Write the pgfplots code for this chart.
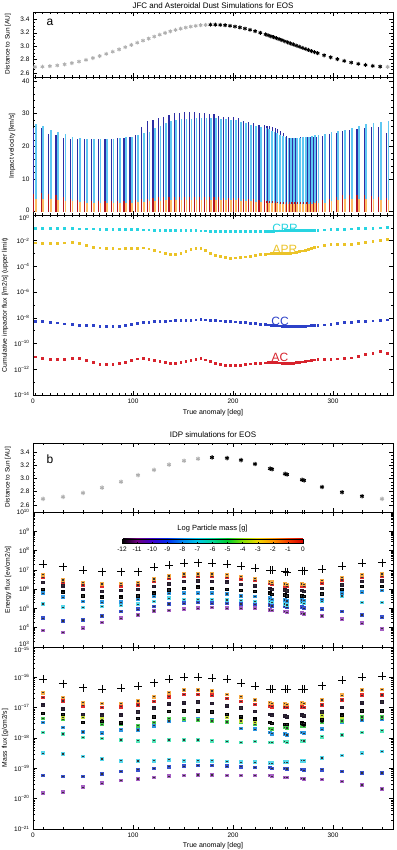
\documentclass[border=0pt]{standalone}
\usepackage{fontspec}
\setmainfont{Liberation Sans}
\usepackage{pgfplots}
\usepackage{pgfplotstable}
\pgfplotsset{compat=1.18}

\newcommand\fs[1]{\fontsize{#1}{#1}\selectfont}

\definecolor{cdb}{RGB}{45,45,165}
\definecolor{ccy}{RGB}{95,200,242}
\definecolor{crd}{RGB}{180,20,35}
\definecolor{cor}{RGB}{252,188,100}
\definecolor{fcy}{RGB}{40,212,225}
\definecolor{fye}{RGB}{235,195,40}
\definecolor{fbl}{RGB}{45,65,200}
\definecolor{frd}{RGB}{215,35,45}
\definecolor{gry}{RGB}{175,175,175}
\definecolor{por}{RGB}{245,170,70}
\definecolor{prd}{RGB}{225,45,45}
\definecolor{pbk}{RGB}{35,25,45}
\definecolor{pin}{RGB}{95,70,190}
\definecolor{pye}{RGB}{200,225,60}
\definecolor{pgr}{RGB}{70,205,80}
\definecolor{psk}{RGB}{45,150,225}
\definecolor{paq}{RGB}{80,230,185}
\definecolor{pcy}{RGB}{85,215,235}
\definecolor{pbl}{RGB}{55,80,205}
\definecolor{ppu}{RGB}{165,95,195}

\pgfplotsset{colormap={idl}{rgb255(0cm)=(0,0,0); rgb255(1cm)=(110,0,130); rgb255(2cm)=(60,0,205); rgb255(3cm)=(0,45,240); rgb255(4cm)=(0,135,240); rgb255(5cm)=(0,200,230); rgb255(6cm)=(0,215,150); rgb255(7cm)=(0,205,45); rgb255(8cm)=(135,225,0); rgb255(9cm)=(240,215,0); rgb255(10cm)=(255,150,0); rgb255(11cm)=(245,60,0); rgb255(12cm)=(215,0,0)}}

\pgfdeclareplotmark{sqd}{%
  \pgfpathrectangle{\pgfpoint{-\pgfplotmarksize}{-\pgfplotmarksize}}{\pgfpoint{2\pgfplotmarksize}{2\pgfplotmarksize}}%
  \pgfusepath{fill}%
  \begin{pgfscope}%
  \pgfsetfillcolor{black!80}%
  \pgfpathrectangle{\pgfpoint{-0.35\pgfplotmarksize}{-0.35\pgfplotmarksize}}{\pgfpoint{0.7\pgfplotmarksize}{0.7\pgfplotmarksize}}%
  \pgfusepath{fill}%
  \end{pgfscope}%
}

\def\mlE{3}
\foreach \d in {3,...,9}{\foreach \m in {0.301,0.477,0.602,0.699,0.778,0.845,0.903,0.954}{\pgfmathsetmacro\mtv{\d+\m}\xdef\mlE{\mlE,\mtv}}}
\def\mlM{-21}
\foreach \d in {-21,...,-16}{\foreach \m in {0.301,0.477,0.602,0.699,0.778,0.845,0.903,0.954}{\pgfmathsetmacro\mtv{\d+\m}\xdef\mlM{\mlM,\mtv}}}

\def\nuA{2,9.45,16.88,24.27,31.59,38.83,45.97,52.99,59.89,66.65,73.27,79.74,86.07,92.26,98.31,104.23,110.02,115.69,121.25,126.7,132.06,137.33,142.53,147.65,152.72,157.73,162.7,167.64,172.55,177.45,182.34,187.23,192.12,197.03,201.97,206.94,211.95,217.01,222.13,227.32,232.58,237.93,243.37,248.91,254.56,260.32,266.21,272.23,278.38,284.67,291.1,297.67,304.38,311.22,318.2,325.29,332.49,339.78,347.14,354.55}
\def\nuB{10,30,50,69,88,105,121,136,151,165,179,194,208,222,237,239,252,254,269,271,289,309,329,349}

\pgfplotsset{
  idl/.style={scale only axis, width=360pt, xmin=0, xmax=360, anchor=south west,
    xtick={0,100,200,300}, tick align=inside, major tick length=4pt, minor tick length=2pt,
    axis line style={line width=0.6pt}, every tick/.style={black,line width=0.5pt},
    tick label style={font=\fs{6.5}},
    /pgf/number format/assume math mode=true, xticklabels={}},
  logl/.style={yticklabel={\pgfmathtruncatemacro\myexp{round(\tick)}10\textsuperscript{\ifnum\myexp<0 \textendash\the\numexpr-\myexp\relax\else\myexp\fi}}}
}

\pgfplotstableread{
nu vcc vcpr vac vapr fcpr fapr fcc fac
2.00 25.7 26.7 5.4 3.8 -1.00 -2.15 -8.24 -11.02
9.45 25.7 26.1 5.6 3.9 -1.01 -2.18 -8.28 -11.12
16.88 23.9 25.0 5.5 3.8 -1.02 -2.20 -8.32 -11.20
24.27 23.5 24.3 5.1 3.6 -1.03 -2.18 -8.38 -11.20
31.59 22.5 23.7 4.5 3.4 -1.04 -2.16 -8.46 -11.19
38.83 22.3 22.8 4.0 3.2 -1.05 -2.14 -8.52 -11.14
45.97 22.3 22.5 3.6 2.9 -1.06 -2.18 -8.56 -11.14
52.99 22.2 22.3 3.4 2.8 -1.06 -2.38 -8.59 -11.30
59.89 22.1 22.1 3.3 2.7 -1.07 -2.48 -8.60 -11.48
66.65 22.1 22.1 3.2 2.7 -1.08 -2.55 -8.62 -11.58
73.27 22.1 22.1 3.2 2.7 -1.09 -2.58 -8.63 -11.60
79.74 22.3 22.2 3.2 2.7 -1.10 -2.61 -8.63 -11.60
86.07 22.4 22.4 3.3 2.7 -1.10 -2.62 -8.62 -11.55
92.26 22.6 22.7 3.4 2.8 -1.11 -2.61 -8.58 -11.42
98.31 22.9 23.0 3.5 2.8 -1.12 -2.60 -8.52 -11.30
104.23 23.4 23.5 3.6 2.9 -1.13 -2.57 -8.44 -11.18
110.02 25.8 24.0 3.8 3.1 -1.14 -2.55 -8.36 -11.12
115.69 27.6 24.5 4.0 3.2 -1.15 -2.62 -8.31 -11.20
121.25 28.2 25.5 4.2 3.3 -1.16 -2.74 -8.28 -11.32
126.70 28.7 26.3 4.4 3.4 -1.17 -2.86 -8.26 -11.40
132.06 29.1 27.1 4.5 3.5 -1.18 -2.96 -8.24 -11.47
137.33 29.6 27.7 4.6 3.6 -1.19 -3.03 -8.22 -11.52
142.53 30.1 28.0 4.6 3.6 -1.19 -3.07 -8.21 -11.50
147.65 30.3 28.3 4.6 3.7 -1.20 -3.00 -8.20 -11.45
152.72 30.4 28.5 4.6 3.7 -1.20 -2.84 -8.19 -11.40
157.73 30.4 28.5 4.5 3.7 -1.21 -2.68 -8.17 -11.30
162.70 30.4 28.6 4.5 3.7 -1.21 -2.57 -8.15 -11.20
167.64 30.3 28.6 4.5 3.7 -1.22 -2.60 -8.13 -11.15
172.55 30.2 28.6 4.5 3.7 -1.22 -2.75 -8.15 -11.25
177.45 29.9 28.6 4.5 3.7 -1.23 -2.98 -8.17 -11.40
182.34 29.8 28.6 4.4 3.6 -1.23 -3.12 -8.19 -11.52
187.23 29.4 28.5 4.4 3.6 -1.24 -3.22 -8.22 -11.62
192.12 29.1 28.3 4.3 3.6 -1.24 -3.30 -8.25 -11.70
197.03 29.0 28.1 4.3 3.5 -1.25 -3.33 -8.28 -11.70
201.97 28.9 27.9 4.2 3.5 -1.25 -3.32 -8.30 -11.68
206.94 28.6 27.5 4.1 3.4 -1.25 -3.28 -8.33 -11.66
211.95 27.7 27.1 4.0 3.3 -1.25 -3.24 -8.36 -11.62
217.01 27.4 26.6 3.9 3.2 -1.25 -3.18 -8.40 -11.57
222.13 27.0 26.3 3.8 3.1 -1.24 -3.12 -8.43 -11.53
227.32 26.6 25.9 3.6 2.9 -1.24 -3.07 -8.47 -11.51
232.58 26.4 25.5 3.5 2.8 -1.24 -3.03 -8.51 -11.49
235.25 26.3 25.3 3.4 2.7 -1.23 -3.01 -8.53 -11.48
237.93 26.1 24.8 3.3 2.7 -1.23 -3.00 -8.55 -11.47
240.65 25.9 24.4 3.2 2.6 -1.23 -2.99 -8.57 -11.47
243.37 25.6 24.0 3.2 2.6 -1.22 -2.99 -8.59 -11.48
246.14 25.3 23.6 3.1 2.5 -1.22 -2.99 -8.61 -11.49
248.91 24.8 23.3 3.1 2.5 -1.22 -2.99 -8.62 -11.50
251.74 24.2 22.9 3.1 2.5 -1.21 -2.99 -8.63 -11.51
254.56 23.1 22.6 3.0 2.5 -1.21 -2.98 -8.64 -11.52
257.44 22.6 22.6 3.0 2.5 -1.21 -2.96 -8.64 -11.52
260.32 22.6 22.6 3.0 2.5 -1.20 -2.93 -8.64 -11.50
263.27 22.6 22.6 3.0 2.5 -1.20 -2.88 -8.64 -11.47
266.21 22.6 22.6 3.0 2.5 -1.19 -2.83 -8.64 -11.44
269.22 22.7 22.7 3.0 2.5 -1.19 -2.78 -8.63 -11.41
272.23 22.7 22.8 3.0 2.5 -1.18 -2.72 -8.62 -11.38
275.30 22.8 22.9 3.0 2.5 -1.18 -2.65 -8.61 -11.34
278.38 22.9 23.1 3.1 2.5 -1.17 -2.58 -8.60 -11.30
281.53 22.9 23.4 3.1 2.6 -1.17 -2.52 -8.59 -11.26
284.67 23.0 23.6 3.2 2.6 -1.16 -2.47 -8.58 -11.22
291.10 23.3 23.9 3.5 2.8 -1.14 -2.38 -8.53 -11.20
297.67 23.8 24.5 4.0 3.3 -1.13 -2.30 -8.47 -11.20
304.38 24.2 24.8 4.5 3.6 -1.11 -2.27 -8.41 -11.18
311.22 24.6 25.1 5.0 3.8 -1.09 -2.27 -8.36 -11.15
318.20 24.9 25.5 5.1 3.9 -1.07 -2.27 -8.32 -11.10
325.29 25.3 26.1 5.1 3.9 -1.05 -2.22 -8.28 -11.00
332.49 25.6 26.8 5.1 3.9 -1.03 -2.12 -8.25 -10.85
339.78 25.9 27.0 4.9 3.8 -1.01 -2.02 -8.22 -10.72
347.14 26.0 27.4 4.4 3.6 -0.99 -1.95 -8.18 -10.62
354.55 24.2 27.8 4.2 3.5 -0.97 -1.89 -8.14 -10.75
}\tabA

\pgfplotstableread{
nu plus or rd bk in sk cy bl pu
10 7.30 6.74 6.61 6.34 5.99 5.79 5.23 4.49 3.85
30 7.17 6.48 6.34 6.17 5.84 5.58 5.06 4.35 3.75
50 6.99 6.34 6.22 5.99 5.65 5.35 5.04 4.40 3.97
69 6.91 6.27 6.17 5.87 5.58 5.32 5.09 4.61 4.28
88 6.91 6.30 6.17 5.92 5.58 5.32 5.15 4.84 4.49
105 6.91 6.34 6.22 5.99 5.65 5.47 5.22 4.96 4.66
121 7.13 6.53 6.39 6.13 5.79 5.61 5.35 5.09 4.87
136 7.25 6.68 6.56 6.27 5.96 5.79 5.53 5.23 4.89
151 7.34 6.79 6.65 6.39 6.04 5.79 5.47 5.27 4.96
165 7.37 6.79 6.65 6.42 6.10 5.79 5.47 5.30 5.01
179 7.34 6.79 6.65 6.39 6.04 5.79 5.47 5.27 5.04
194 7.30 6.74 6.61 6.36 5.99 5.75 5.44 5.27 5.01
208 7.20 6.65 6.51 6.25 5.92 5.65 5.41 5.23 5.01
222 7.08 6.56 6.44 6.17 5.87 5.61 5.35 5.22 5.01
237 6.99 6.39 6.30 6.04 5.79 5.53 5.35 5.18 4.92
239 6.99 6.36 6.27 5.99 5.73 5.47 5.30 5.13 4.89
252 6.91 6.27 6.17 5.96 5.70 5.44 5.23 5.09 4.84
254 6.87 6.24 6.13 5.91 5.65 5.39 5.18 5.04 4.80
269 6.96 6.27 6.17 5.92 5.65 5.44 5.30 5.06 4.75
271 6.96 6.24 6.13 5.87 5.61 5.41 5.27 5.01 4.71
289 7.03 6.44 6.30 6.04 5.75 5.47 5.35 4.96 4.61
309 7.20 6.61 6.48 6.22 5.99 5.79 5.65 4.84 4.44
329 7.34 6.74 6.61 6.39 6.13 5.84 5.30 4.66 4.23
349 7.37 6.79 6.65 6.42 6.13 5.92 5.30 4.54 3.94
}\tabE

\pgfplotstableread{
nu plus or rd bk in ye gr sk aq cy bl pu
10 -16.05 -16.51 -16.67 -16.92 -17.19 nan -17.36 -17.49 -17.82 -18.50 -19.24 -19.82
30 -16.21 -16.67 -16.78 -17.05 -17.22 -17.32 -17.38 -17.66 -17.87 -18.53 -19.27 -19.79
50 -16.34 -16.84 -16.94 -17.22 -17.49 -17.33 nan -17.80 -17.98 -18.61 -19.27 -19.62
69 -16.38 -16.86 -17.00 -17.25 -17.45 -17.38 -17.55 -17.84 -18.02 -18.69 -19.19 -19.49
88 -16.35 -16.86 -16.97 -17.25 -17.50 nan -17.55 -17.73 -18.07 -18.75 -19.10 -19.40
105 -16.29 -16.78 -16.91 -17.14 -17.36 nan -17.60 -17.74 -18.09 -18.76 -19.05 -19.35
121 -16.18 -16.64 -16.80 -17.02 -17.31 nan -17.49 -17.60 -18.09 -18.75 -19.00 -19.30
136 -16.07 -16.51 -16.64 -16.87 -17.13 nan -17.36 -17.44 -18.07 -18.72 -18.95 -19.26
151 -15.99 -16.42 -16.56 -16.84 -17.11 nan -17.38 -17.41 -18.07 -18.75 -18.93 -19.24
165 -15.99 -16.42 -16.56 -16.81 -17.11 nan -17.41 -17.38 -18.07 -18.75 -18.91 -19.22
179 -16.02 -16.45 -16.59 -16.86 -17.14 nan -17.44 -17.40 -18.09 -18.75 -18.91 -19.22
194 -16.07 -16.56 -16.70 -16.94 -17.22 -17.33 -17.47 -17.49 -18.12 -18.78 -18.93 -19.24
208 -16.20 -16.64 -16.80 -17.01 -17.30 -17.44 -17.49 -17.69 -18.15 -18.80 -18.95 -19.24
222 -16.29 -16.75 -16.89 -17.13 -17.38 -17.49 -17.55 -17.71 -18.12 -18.80 -18.97 -19.24
237 -16.38 -16.84 -16.94 -17.22 -17.49 nan -17.69 -17.82 -18.15 -18.83 -18.97 -19.24
239 -16.38 -16.86 -16.97 -17.25 -17.52 nan -17.71 -17.86 -18.15 -18.83 -19.00 -19.26
252 -16.40 -16.87 -16.98 -17.27 -17.55 nan -17.66 -17.87 -18.12 -18.80 -19.00 -19.30
254 -16.40 -16.89 -17.00 -17.30 -17.56 nan -17.67 -17.90 -18.14 -18.80 -19.02 -19.30
269 -16.38 -16.84 -16.98 -17.25 -17.51 nan -17.60 -17.82 -18.09 -18.75 -19.04 -19.33
271 -16.38 -16.86 -17.00 -17.27 -17.53 nan -17.62 -17.84 -18.10 -18.75 -19.06 -19.35
289 -16.27 -16.75 -16.91 -17.14 -17.40 -17.27 -17.49 -17.71 -17.96 -18.66 -19.05 -19.37
309 -16.09 -16.59 -16.75 -16.99 -17.25 -17.30 -17.44 -17.49 -17.90 -18.58 -19.11 -19.44
329 -15.99 -16.42 -16.59 -16.84 -17.11 nan -17.31 -17.41 -17.82 -18.50 -19.15 -19.55
349 -15.96 -16.40 -16.58 -16.81 -17.11 nan -17.31 -17.38 -17.76 -18.44 -19.15 -19.68
}\tabM

\begin{document}
\begin{tikzpicture}
\useasboundingbox (0,0) rectangle (396pt,850pt);

% ---------- Panel a: distance ----------
\begin{axis}[idl, at={(33pt,773pt)}, height=65pt, ymin=2.54, ymax=3.51,
  ytick={2.6,2.8,3.0,3.2,3.4}, minor y tick num=3, minor xtick/.expanded={\nuA},
  yticklabel style={/pgf/number format/.cd, fixed, fixed zerofill, precision=1}]
\addplot[only marks, mark=asterisk, mark size=2pt, gry, line width=0.9pt] coordinates {
(2.00,2.690) (9.45,2.693) (16.88,2.701) (24.27,2.712) (31.59,2.728) (38.83,2.747) (45.97,2.770) (52.99,2.795) (59.89,2.823) (66.65,2.853) (73.27,2.885) (79.74,2.917) (86.07,2.951) (92.26,2.984) (98.31,3.018) (104.23,3.051) (110.02,3.083) (115.69,3.114) (121.25,3.143) (126.70,3.171) (132.06,3.197) (137.33,3.221) (142.53,3.242) (147.65,3.261) (152.72,3.278) (157.73,3.292) (162.70,3.303) (167.64,3.312) (172.55,3.317) (354.55,2.691)};
\addplot[only marks, mark=asterisk, mark size=2pt, black, line width=0.9pt] coordinates {
(177.45,3.320) (182.34,3.320) (187.23,3.317) (192.12,3.312) (197.03,3.304) (201.97,3.293) (206.94,3.279) (211.95,3.263) (217.01,3.244) (222.13,3.223) (227.32,3.200) (232.58,3.175) (235.25,3.161) (237.93,3.147) (240.65,3.133) (243.37,3.119) (246.14,3.104) (248.91,3.089) (251.74,3.073) (254.56,3.057) (257.44,3.041) (260.32,3.025) (263.27,3.009) (266.21,2.993) (269.22,2.976) (272.23,2.960) (275.30,2.943) (278.38,2.927) (281.53,2.911) (284.67,2.895) (291.10,2.864) (297.67,2.834) (304.38,2.806) (311.22,2.780) (318.20,2.756) (325.29,2.736) (332.49,2.719) (339.78,2.705) (347.14,2.696)};
\end{axis}

% ---------- Panel a: impact velocity ----------
\begin{axis}[idl, at={(33pt,635pt)}, height=138pt, ymin=-1, ymax=41.2,
  ytick={10,20,30,40}, extra y ticks={0}, extra y tick style={yticklabel style={yshift=1.5pt}},
  minor y tick num=4, minor xtick/.expanded={\nuA}]
\addplot[ycomb, cdb, line width=1.1pt] table[x expr=\thisrow{nu}-1.3, y=vcc]{\tabA};
\addplot[ycomb, ccy, line width=1.7pt] table[x expr=\thisrow{nu}+0.8, y=vcpr]{\tabA};
\addplot[ycomb, crd, line width=1.1pt] table[x expr=\thisrow{nu}-1.3, y=vac]{\tabA};
\addplot[ycomb, cor, line width=1.7pt] table[x expr=\thisrow{nu}+0.8, y=vapr]{\tabA};
\end{axis}

% ---------- Panel a: cumulative flux ----------
\begin{axis}[idl, logl, at={(33pt,455pt)}, height=180pt, ymin=-14, ymax=0,
  ytick={-14,-12,...,-2}, extra y ticks={0}, extra y tick style={yticklabel style={yshift=-3pt}},
  minor ytick={-13,-11,...,-1}, minor xtick/.expanded={\nuA},
  xticklabels={0,100,200,300}]
\addplot[only marks, mark=square*, mark size=0.9pt, fcy] table[x=nu, y=fcpr]{\tabA};
\addplot[only marks, mark=square*, mark size=0.9pt, fye] table[x=nu, y=fapr]{\tabA};
\addplot[only marks, mark=square*, mark size=0.9pt, fbl] table[x=nu, y=fcc]{\tabA};
\addplot[only marks, mark=square*, mark size=0.9pt, frd] table[x=nu, y=fac]{\tabA};
\node[text=fcy, font=\fs{12}] at (axis cs:252,-1.01) {CPR};
\node[text=fye, font=\fs{12}] at (axis cs:252,-2.64) {APR};
\node[text=fbl, font=\fs{12}] at (axis cs:247,-8.24) {CC};
\node[text=frd, font=\fs{12}] at (axis cs:247,-11.04) {AC};
\end{axis}

% ---------- Panel b: distance ----------
\begin{axis}[idl, at={(33pt,338pt)}, height=69pt, ymin=2.49, ymax=3.54,
  ytick={2.6,2.8,3.0,3.2,3.4}, minor y tick num=3, minor xtick/.expanded={\nuB},
  yticklabel style={/pgf/number format/.cd, fixed, fixed zerofill, precision=1}]
\addplot[only marks, mark=asterisk, mark size=2.2pt, gry, line width=1pt] coordinates {
(10,2.69) (30,2.72) (50,2.78) (69,2.86) (88,2.95) (105,3.05) (121,3.13) (136,3.21) (151,3.27) (165,3.30) (349,2.69)};
\addplot[only marks, mark=asterisk, mark size=2.2pt, black, line width=1pt] coordinates {
(179,3.32) (194,3.31) (208,3.28) (222,3.22) (237,3.15) (239,3.14) (252,3.07) (254,3.06) (269,2.98) (271,2.97) (289,2.87) (309,2.79) (329,2.73)};
\end{axis}

% ---------- Panel b: energy flux ----------
\begin{axis}[idl, logl, at={(33pt,203pt)}, height=135pt, ymin=3, ymax=10,
  ytick={4,...,10}, extra y ticks={3}, extra y tick style={yticklabel style={yshift=3pt}},
  minor ytick/.expanded={\mlE}, minor xtick/.expanded={\nuB},
  colormap name=idl, point meta min=-12, point meta max=0,
  colorbar horizontal,
  colorbar style={at={(parent axis.north west)}, anchor=north west, xshift=89pt, yshift=-18.3pt,
    scale only axis, width=181pt, height=4.5pt, xtick={-12,...,0},
    major tick length=1.2pt, axis line style={line width=0.3pt},
    xticklabel style={font=\fs{6.5}}, /pgf/number format/assume math mode=true,
    title={Log Particle mass [g]}, title style={font=\fs{7.5}, yshift=-3pt}}]
\addplot[only marks, mark=sqd, mark size=1.8pt, ppu] table[x=nu, y=pu]{\tabE};
\addplot[only marks, mark=sqd, mark size=1.8pt, pbl] table[x=nu, y=bl]{\tabE};
\addplot[only marks, mark=sqd, mark size=1.8pt, pcy] table[x=nu, y=cy]{\tabE};
\addplot[only marks, mark=sqd, mark size=1.8pt, psk] table[x=nu, y=sk]{\tabE};
\addplot[only marks, mark=sqd, mark size=1.8pt, pin] table[x=nu, y=in]{\tabE};
\addplot[only marks, mark=sqd, mark size=1.8pt, pbk] table[x=nu, y=bk]{\tabE};
\addplot[only marks, mark=sqd, mark size=1.8pt, prd] table[x=nu, y=rd]{\tabE};
\addplot[only marks, mark=sqd, mark size=1.8pt, por] table[x=nu, y=or]{\tabE};
\addplot[only marks, mark=+, mark size=4pt, black, line width=0.6pt] table[x=nu, y=plus]{\tabE};
\end{axis}

% ---------- Panel b: mass flux ----------
\begin{axis}[idl, logl, at={(33pt,21pt)}, height=182pt, ymin=-21, ymax=-15,
  ytick={-21,...,-16}, extra y ticks={-15}, extra y tick style={yticklabel style={yshift=-3pt}},
  minor ytick/.expanded={\mlM}, minor xtick/.expanded={\nuB},
  xticklabels={0,100,200,300}]
\addplot[only marks, mark=sqd, mark size=1.8pt, ppu] table[x=nu, y=pu]{\tabM};
\addplot[only marks, mark=sqd, mark size=1.8pt, pbl] table[x=nu, y=bl]{\tabM};
\addplot[only marks, mark=sqd, mark size=1.8pt, pcy] table[x=nu, y=cy]{\tabM};
\addplot[only marks, mark=sqd, mark size=1.8pt, paq] table[x=nu, y=aq]{\tabM};
\addplot[only marks, mark=sqd, mark size=1.8pt, psk] table[x=nu, y=sk]{\tabM};
\addplot[only marks, mark=sqd, mark size=1.8pt, pgr] table[x=nu, y=gr]{\tabM};
\addplot[only marks, mark=sqd, mark size=1.8pt, pye] table[x=nu, y=ye]{\tabM};
\addplot[only marks, mark=sqd, mark size=1.8pt, pin] table[x=nu, y=in]{\tabM};
\addplot[only marks, mark=sqd, mark size=1.8pt, pbk] table[x=nu, y=bk]{\tabM};
\addplot[only marks, mark=sqd, mark size=1.8pt, prd] table[x=nu, y=rd]{\tabM};
\addplot[only marks, mark=sqd, mark size=1.8pt, por] table[x=nu, y=or]{\tabM};
\addplot[only marks, mark=+, mark size=4pt, black, line width=0.6pt] table[x=nu, y=plus]{\tabM};
\end{axis}

% ---------- texts ----------
\node[font=\fs{8}] at (213pt,844pt) {JFC and Asteroidal Dust Simulations for EOS};
\node[font=\fs{8}] at (213pt,415pt) {IDP simulations for EOS};
\node[font=\fs{12}] at (50pt,828pt) {a};
\node[font=\fs{12}] at (50pt,391pt) {b};
\node[rotate=90, font=\fs{6.5}] at (8pt,806pt) {Distance to Sun [AU]};
\node[rotate=90, font=\fs{6.8}] at (12pt,704pt) {Impact velocity [km/s]};
\node[rotate=90, font=\fs{6.8}] at (5pt,545pt) {Cumulative impactor flux [/m2/s] (upper limit)};
\node[rotate=90, font=\fs{6.5}] at (8pt,373pt) {Distance to Sun [AU]};
\node[rotate=90, font=\fs{6.8}] at (8pt,270pt) {Energy flux [ev/cm2/s]};
\node[rotate=90, font=\fs{6.8}] at (5pt,112pt) {Mass flux [g/cm2/s]};
\node[font=\fs{7}] at (213pt,437pt) {True anomaly [deg]};
\node[font=\fs{7}] at (213pt,4.5pt) {True anomaly [deg]};
\end{tikzpicture}
\end{document}
